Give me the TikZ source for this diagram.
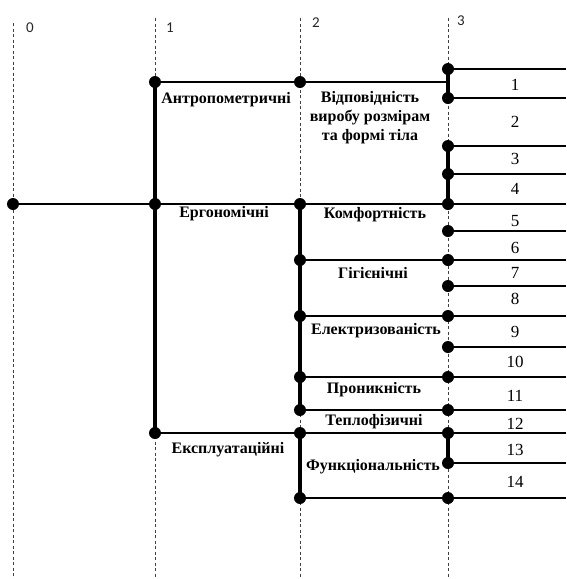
\documentclass[tikz,border=0pt]{standalone}
\usepackage{fontspec}
\setmainfont{Liberation Serif}
\newfontfamily\colfont{Carlito}
\begin{document}
\begin{tikzpicture}[x=1pt,y=-1pt,
  guide/.style={draw=black!75,line width=0.9pt,dash pattern=on 3pt off 2.5pt},
  hline/.style={line width=2.2pt},
  vline/.style={line width=3.2pt},
  dot/.style={circle,fill=black,inner sep=0pt,minimum size=12pt},
  lbl/.style={font=\fontsize{16}{19}\selectfont\bfseries,inner sep=0pt,align=center},
  num/.style={font=\fontsize{17}{19}\selectfont,inner sep=0pt},
  colnum/.style={font=\colfont\fontsize{15}{17}\selectfont,text=black!85,inner sep=0pt}]
\useasboundingbox (0,0) rectangle (566,579);
% guide lines
\coordinate (g0t) at (13,23);  \coordinate (g0b) at (13,579);
\coordinate (g1t) at (155,18); \coordinate (g1b) at (155,579);
\coordinate (g2t) at (300,18); \coordinate (g2b) at (300,579);
\coordinate (g3t) at (448,18); \coordinate (g3b) at (448,579);
\draw[guide] (g0t) -- (g0b);
\draw[guide] (g1t) -- (g1b);
\draw[guide] (g2t) -- (g2b);
\draw[guide] (g3t) -- (g3b);
\node[colnum] (n0) at (30,28) {0};
\node[colnum] (n1) at (170,28) {1};
\node[colnum] (n2) at (316,23) {2};
\node[colnum] (n3) at (461,21) {3};
% points
\coordinate (a0) at (13,204);
\coordinate (b1) at (155,82);
\coordinate (b2) at (155,204);
\coordinate (b3) at (155,433);
\coordinate (c1) at (300,82);
\coordinate (c2) at (300,204);
\coordinate (c3) at (300,260);
\coordinate (c4) at (300,316);
\coordinate (c5) at (300,377);
\coordinate (c6) at (300,410);
\coordinate (c7) at (300,433);
\coordinate (c8) at (300,498);
\coordinate (j1) at (448,82);
\foreach \i/\y in {1/69,2/98,3/146,4/174,5/204,6/231,7/260,8/286,9/316,10/347,11/377,12/410,13/433,14/463,15/498}{
  \coordinate (d\i) at (448,\y);
  \coordinate (e\i) at (566,\y);
}
% horizontal lines
\draw[hline] (a0) -- (b2) -- (c2) -- (d5);
\draw[hline] (b1) -- (c1) -- (j1);
\draw[hline] (b3) -- (c7) -- (d13);
\draw[hline] (c3) -- (d7);
\draw[hline] (c4) -- (d9);
\draw[hline] (c5) -- (d11);
\draw[hline] (c6) -- (d12);
\draw[hline] (c8) -- (d15);
\foreach \i in {1,...,15}{ \draw[hline] (d\i) -- (e\i); }
% vertical brackets
\draw[vline] (b1) -- (b3);
\draw[vline] (c2) -- (c6);
\draw[vline] (c7) -- (c8);
\draw[vline] (d1) -- (d2);
\draw[vline] (d3) -- (d5);
\draw[vline] (d13) -- (d14);
% dots
\foreach \p in {a0,b1,b2,b3,c1,c2,c3,c4,c5,c6,c7,c8}{ \node[dot] at (\p) {}; }
\foreach \i in {1,...,15}{ \node[dot] at (d\i) {}; }
% labels
\node[lbl] (l1) at (226,100) {Антропометричні};
\node[lbl] (l2) at (370,118) {Відповідність\\виробу розмірам\\та формі тіла};
\node[lbl] (l3) at (224,214) {Ергономічні};
\node[lbl] (l4) at (375,215) {Комфортність};
\node[lbl] (l5) at (373,273) {Гігієнічні};
\node[lbl] (l6) at (376,331) {Електризованість};
\node[lbl] (l7) at (374,390) {Проникність};
\node[lbl] (l8) at (374,422) {Теплофізичні};
\node[lbl] (l9) at (228,450) {Експлуатаційні};
\node[lbl] (l10) at (373,467) {Функціональність};
% numbers
\foreach \k/\y in {1/85,2/122,3/159,4/189,5/221,6/248,7/273,8/299,9/332,10/362,11/396,12/424,13/450,14/482}{
  \node[num] (m\k) at (515,\y) {\k};
}
\end{tikzpicture}
\end{document}
